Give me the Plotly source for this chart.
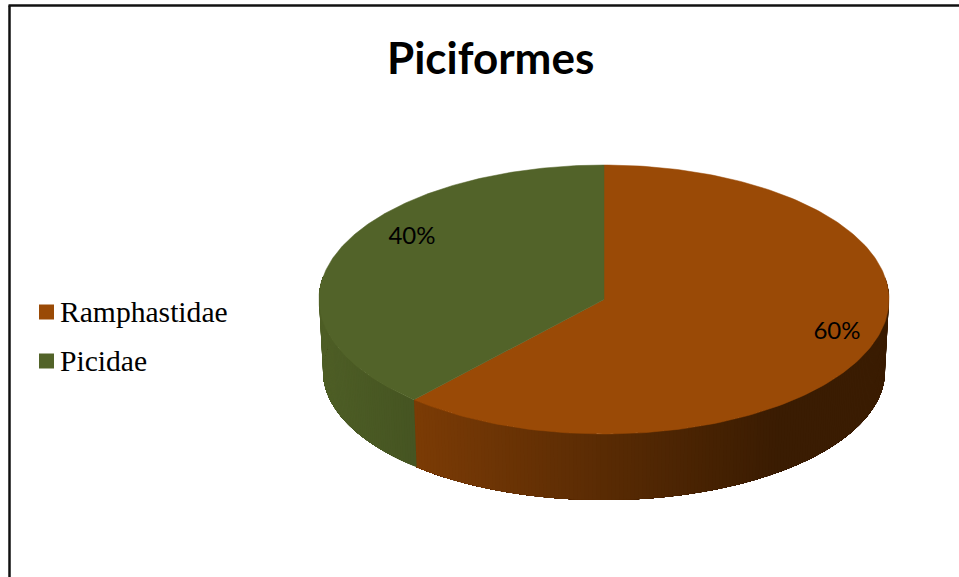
import numpy as np
import plotly.graph_objects as go

title = "Piciformes"
categories = ["Ramphastidae", "Picidae"]
shares = [60, 40]
top_colors = ["#9A4A06", "#526329"]
side_left = [(124, 60, 6), (78, 94, 38)]
side_right = [(58, 28, 2), (70, 85, 34)]
label_centres = [(837, 332.5), (412, 238)]
legend_rows = [312, 361]

CX, CY, RX, RY = 604, 299.5, 285, 134.5
BX, BY, BRX, BRY = 604, 371, 281, 129
WARP = -9.9


def warp(deg):
    return deg + WARP * np.sin(np.radians(deg))


def top(deg):
    t = np.radians(warp(deg))
    return CX + RX * np.sin(t), CY - RY * np.cos(t)


def bottom(deg):
    t = np.radians(warp(deg))
    return BX + BRX * np.sin(t), BY - BRY * np.cos(t)


edges = np.cumsum([0] + shares) * 3.6
fig = go.Figure()

# rim: gradient strips painted over one another so no seams show
for i, (a, b) in enumerate(zip(edges[:-1], edges[1:])):
    lo, hi = max(a, 90), min(b, 270)
    steps = np.linspace(lo, hi, int((hi - lo) * 1.5) + 1)
    x0 = bottom(hi)[0]
    x1 = bottom(lo)[0]
    for s0 in steps[:-1]:
        sx = np.linspace(s0, hi, 2 + int(hi - s0))
        tx, ty = top(sx)
        bx, by = bottom(sx)
        xm = bottom(s0)[0]
        if i == 0:
            f = np.clip((xm - x0) / (780 - x0), 0, 1)
        else:
            f = np.clip((xm - x0) / (x1 - x0), 0, 1)
        c = [int(l + (r - l) * f) for l, r in zip(side_left[i], side_right[i])]
        col = f"rgb({c[0]},{c[1]},{c[2]})"
        fig.add_trace(go.Scatter(
            x=np.r_[tx, bx[::-1]], y=np.r_[ty, by[::-1]],
            mode="none", fill="toself", fillcolor=col,
            hoverinfo="skip", showlegend=False))

# top faces
for i, (a, b) in enumerate(zip(edges[:-1], edges[1:])):
    sx = np.linspace(a, b, 200)
    tx, ty = top(sx)
    fig.add_trace(go.Scatter(
        x=np.r_[CX, tx, CX], y=np.r_[CY, ty, CY],
        mode="lines", fill="toself", fillcolor=top_colors[i],
        line=dict(color=top_colors[i], width=0.5),
        name=categories[i], showlegend=False,
        hovertemplate=f"{categories[i]}: {shares[i]}%<extra></extra>"))

# percent labels
fig.add_trace(go.Scatter(
    x=[p[0] for p in label_centres], y=[p[1] for p in label_centres],
    mode="text", text=[f"{v}%" for v in shares],
    textfont=dict(family="Lato", size=24, color="#000000"),
    hoverinfo="skip", showlegend=False))

# legend
fig.add_trace(go.Scatter(
    x=[46.5, 46.5], y=legend_rows, mode="markers",
    marker=dict(symbol="square", size=15, color=top_colors, line=dict(width=0)),
    hoverinfo="skip", showlegend=False))
for name, row in zip(categories, legend_rows):
    fig.add_annotation(x=58, y=row, text=name, showarrow=False, xanchor="left", yanchor="middle",
                       font=dict(family="Liberation Serif", size=29.6, color="#000000"))

fig.add_annotation(x=490.5, y=57, text=f"<b>{title}</b>", showarrow=False,
                   font=dict(family="Lato", size=44, color="#000000"))

frame = dict(color="#111111", width=2.5)
fig.add_shape(type="line", x0=9.5, x1=9.5, y0=5.5, y1=577, line=frame)
fig.add_shape(type="line", x0=8.5, x1=959, y0=5.5, y1=5.5, line=frame)

fig.update_layout(
    width=959, height=577, margin=dict(l=0, r=0, t=0, b=0),
    paper_bgcolor="#FFFFFF", plot_bgcolor="#FFFFFF",
    xaxis=dict(range=[0, 959], visible=False, fixedrange=True),
    yaxis=dict(range=[577, 0], visible=False, fixedrange=True),
)
fig.write_html("out.html", config={"displayModeBar": False},
               post_script="document.body.style.margin='0';document.body.style.overflow='hidden';")
